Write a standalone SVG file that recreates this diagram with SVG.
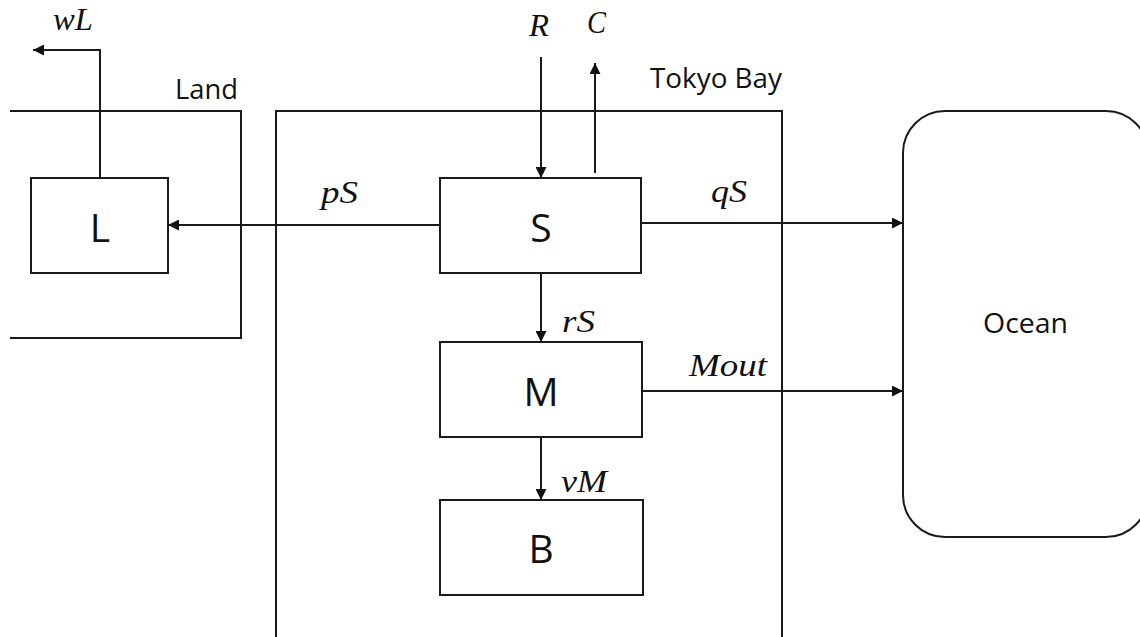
<svg xmlns="http://www.w3.org/2000/svg" width="1140" height="637" viewBox="0 0 1140 637">
<style>
.ln{fill:none;stroke:#1a1a1a;stroke-width:2}
.bx{fill:#fff;stroke:#1a1a1a;stroke-width:2}
.big{font-family:"Open Sans","Noto Sans",sans-serif;font-size:39px;fill:#111;text-anchor:middle}
.lab{font-family:"Open Sans","Noto Sans",sans-serif;font-size:27px;fill:#111}
.m{font-family:"Liberation Serif","DejaVu Serif",serif;font-style:italic;font-size:31px;fill:#111}
</style>
<defs>
<marker id="ah" viewBox="0 0 10 10" refX="10" refY="5" markerWidth="5.5" markerHeight="5.5" orient="auto" markerUnits="strokeWidth">
<path d="M0,0 L10,5 L0,10 z" fill="#111"/>
</marker>
</defs>
<rect width="1140" height="637" fill="#fff"/>
<g id="land">
<path class="ln" d="M10,111 H241 V338 H10"/>
<text class="lab" x="175" y="99" textLength="63" lengthAdjust="spacingAndGlyphs">Land</text>
</g>
<g id="tokyobay">
<path class="ln" d="M276,637 V111 H782 V637"/>
<text class="lab" x="650" y="88" textLength="132" lengthAdjust="spacingAndGlyphs">Tokyo Bay</text>
</g>
<g id="ocean">
<rect class="bx" x="903" y="111" width="245" height="426" rx="42" ry="42"/>
<text class="lab" x="983" y="333" textLength="85" lengthAdjust="spacingAndGlyphs">Ocean</text>
</g>
<g id="nodeL">
<rect class="bx" x="31" y="178" width="137" height="95"/>
<text class="big" x="100" y="242">L</text>
</g>
<g id="nodeS">
<rect class="bx" x="440" y="178" width="201" height="95"/>
<text class="big" x="541" y="242">S</text>
</g>
<g id="nodeM">
<rect class="bx" x="440" y="342" width="202" height="95"/>
<text class="big" x="541" y="406">M</text>
</g>
<g id="nodeB">
<rect class="bx" x="440" y="500" width="203" height="95"/>
<text class="big" x="541" y="563">B</text>
</g>
<g id="connectors">
<path class="ln" d="M100,178 V50 H33" marker-end="url(#ah)"/>
<path class="ln" d="M541,57 V178" marker-end="url(#ah)"/>
<path class="ln" d="M595,173 V63" marker-end="url(#ah)"/>
<path class="ln" d="M440,225 H168" marker-end="url(#ah)"/>
<path class="ln" d="M641,223 H903" marker-end="url(#ah)"/>
<path class="ln" d="M541,273 V342" marker-end="url(#ah)"/>
<path class="ln" d="M642,391 H903" marker-end="url(#ah)"/>
<path class="ln" d="M541,437 V500" marker-end="url(#ah)"/>
</g>
<g id="labels">
<text class="m" x="53" y="30" textLength="40" lengthAdjust="spacingAndGlyphs">wL</text>
<text class="m" x="529" y="36" textLength="20" lengthAdjust="spacingAndGlyphs">R</text>
<text class="m" x="587" y="33" textLength="19" lengthAdjust="spacingAndGlyphs">C</text>
<text class="m" x="321" y="203" textLength="37" lengthAdjust="spacingAndGlyphs">pS</text>
<text class="m" x="711" y="202" textLength="36" lengthAdjust="spacingAndGlyphs">qS</text>
<text class="m" x="562" y="332" textLength="33" lengthAdjust="spacingAndGlyphs">rS</text>
<text class="m" x="689" y="376" textLength="78" lengthAdjust="spacingAndGlyphs">Mout</text>
<text class="m" x="561" y="492" textLength="46" lengthAdjust="spacingAndGlyphs">vM</text>
</g>
</svg>
